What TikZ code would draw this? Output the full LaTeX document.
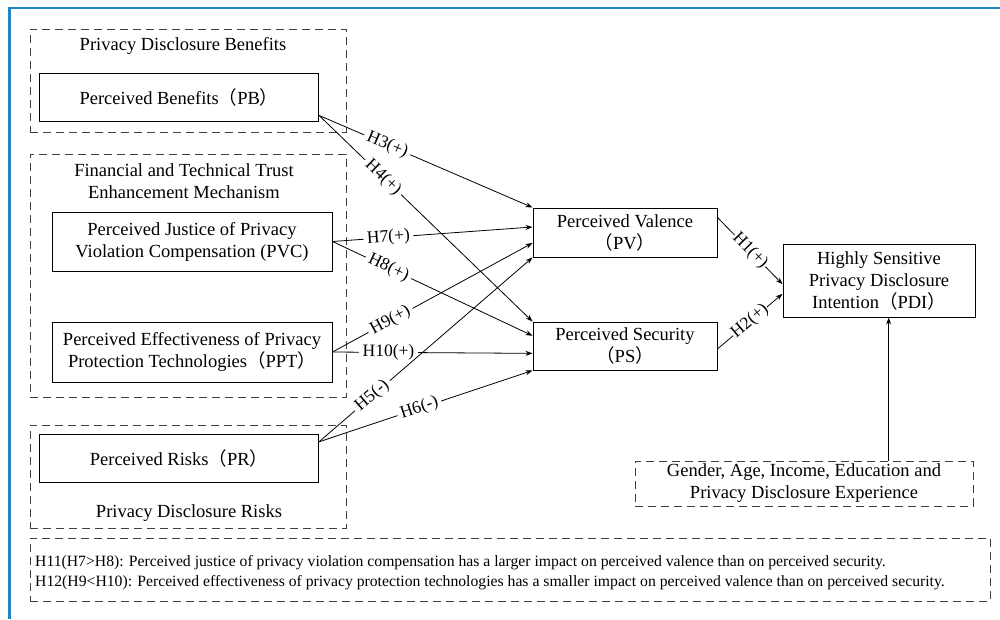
\documentclass[tikz,border=0pt]{standalone}
\usepackage{fontspec}
\setmainfont{Liberation Serif}
\newfontfamily\cjk{Noto Sans CJK SC}
\usepackage{tikz}
\usetikzlibrary{arrows.meta,calc}
\definecolor{frameblue}{RGB}{30,136,196}
\newcommand{\lpar}{{\cjk （}}
\newcommand{\rpar}{{\cjk ）}}

\begin{document}
\begin{tikzpicture}[x=1pt,y=-1pt,
        box/.style={draw,line width=1pt,align=center,inner sep=0pt,font=\fontsize{18.5}{22}\selectfont},
        grp/.style={draw=black!75,line width=1pt,dash pattern=on 8pt off 5pt,inner sep=0pt},
        ttl/.style={align=center,inner sep=0pt,font=\fontsize{18.5}{22}\selectfont},
        hyp/.style={fill=white,inner sep=3.5pt,sloped,font=\fontsize{17.5}{20}\selectfont},
        arr/.style={-{Stealth[length=7pt,width=5pt]},line width=0.8pt}]
        \useasboundingbox (0,0) rectangle (1000,619);
        \draw[frameblue,line width=2.7pt] (9.5,619) -- (9.5,8) -- (1000,8);
        % groups
        \node[grp,minimum width=316pt,minimum height=103pt] (benefits) at (188,80.5) {};
        \node[grp,minimum width=316pt,minimum height=243pt] (trust) at (188,275.5) {};
        \node[grp,minimum width=316pt,minimum height=103pt] (risks) at (188,476.5) {};
        \node[ttl] (benefitsttl) at (183,46) {Privacy Disclosure Benefits};
        \node[ttl] (trustttl) at (184,181) {Financial and Technical Trust\\Enhancement Mechanism};
        \node[ttl] (risksttl) at (189,513) {Privacy Disclosure Risks};
        % constructs
        \node[box,minimum width=279pt,minimum height=48pt] (pb) at (179,97) {Perceived Benefits\lpar PB\rpar};
        \node[box,minimum width=280pt,minimum height=59pt] (pvc) at (192,241.5) {Perceived Justice of Privacy\\Violation Compensation (PVC)};
        \node[box,minimum width=280pt,minimum height=60pt] (ppt) at (192,352) {Perceived Effectiveness of Privacy\\Protection Technologies\lpar PPT\rpar};
        \node[box,minimum width=279pt,minimum height=48pt] (pr) at (179,458) {Perceived Risks\lpar PR\rpar};
        \node[box,minimum width=184pt,minimum height=49pt] (pv) at (625,232.5) {Perceived Valence\\\lpar PV\rpar};
        \node[box,minimum width=184pt,minimum height=48pt] (ps) at (625,346) {Perceived Security\\\lpar PS\rpar};
        \node[box,minimum width=192pt,minimum height=73pt] (pdi) at (879,280.5) {Highly Sensitive\\Privacy Disclosure\\Intention\lpar PDI\rpar};
        \node[box,grp,minimum width=338pt,minimum height=45pt] (ctrl) at (804,483.5) {Gender, Age, Income, Education and\\Privacy Disclosure Experience};
        % note
        \node[grp,minimum width=960pt,minimum height=63pt] (note) at (510,569.5) {};
        \node[anchor=west,align=left,inner sep=0pt,font=\fontsize{15.7}{20}\selectfont] (notetxt) at (35,573)
            {H11(H7>H8): Perceived justice of privacy violation compensation has a larger impact on perceived valence than on perceived security.\\
             H12(H9<H10): Perceived effectiveness of privacy protection technologies has a smaller impact on perceived valence than on perceived security.};
        % end points
        \coordinate (pbout) at ($(pb.north east)!0.875!(pb.south east)$);
        \coordinate (prout) at ($(pr.north east)!0.17!(pr.south east)$);
        \coordinate (pvin1) at ($(pv.north west)!0.39!(pv.south west)$);
        \coordinate (pvin2) at ($(pv.north west)!0.71!(pv.south west)$);
        \coordinate (psin1) at ($(ps.north west)!0.29!(ps.south west)$);
        \coordinate (psin2) at ($(ps.north west)!0.65!(ps.south west)$);
        \coordinate (pvout) at ($(pv.north east)!0.2!(pv.south east)$);
        \coordinate (psout) at ($(ps.north east)!0.56!(ps.south east)$);
        \coordinate (pdiin1) at ($(pdi.north west)!0.55!(pdi.south west)$);
        \coordinate (pdiin2) at ($(pdi.north west)!0.68!(pdi.south west)$);
        \coordinate (pdibot) at ($(pdi.south west)!0.55!(pdi.south east)$);
        % paths
        \draw[arr] (pbout) -- node[hyp,pos=0.32] {H3(+)} (pv.north west);
        \draw[arr] (pbout) -- node[hyp,pos=0.3] {H4(+)} (ps.north west);
        \draw[arr] (pvc.east) -- node[hyp,pos=0.28] {H7(+)} (pvin1);
        \draw[arr] (pvc.east) -- node[hyp,pos=0.28] {H8(+)} (psin1);
        \draw[arr] (ppt.east) -- node[hyp,pos=0.29] {H9(+)} (pvin2);
        \draw[arr] (ppt.east) -- node[hyp,pos=0.28] {H10(+)} (psin2);
        \draw[arr] (prout) -- node[hyp,pos=0.25] {H5(-)} (pv.south west);
        \draw[arr] (prout) -- node[hyp,pos=0.47] {H6(-)} (ps.south west);
        \draw[arr] (pvout) -- node[hyp,inner sep=0.5pt,pos=0.5] {H1(+)} (pdiin1);
        \draw[arr] (psout) -- node[hyp,inner sep=0.5pt,pos=0.5] {H2(+)} (pdiin2);
        \draw[arr] (ctrl.north -| pdibot) -- (pdibot);
\end{tikzpicture}
\end{document}
